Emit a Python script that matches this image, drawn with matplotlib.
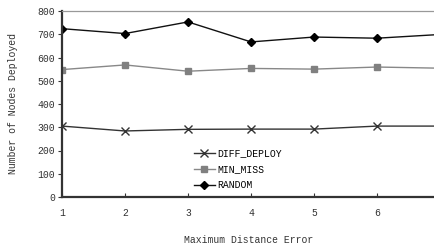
import matplotlib
matplotlib.use("Agg")
import matplotlib.pyplot as plt

# data
x = [1, 2, 3, 4, 5, 6, 7]
diff_deploy = [305, 284, 291, 292, 292, 305, 305]
min_miss = [548, 568, 541, 553, 550, 559, 554]
random_dep = [724, 703, 753, 667, 688, 683, 699]
yticks = [0, 100, 200, 300, 400, 500, 600, 700, 800]
xticks = [1, 2, 3, 4, 5, 6]

plt.rcParams['font.family'] = ['Liberation Mono', 'DejaVu Sans Mono']

fig = plt.figure(figsize=(4.35, 2.48), dpi=100)
ax = fig.add_axes([62 / 435, 1 - 197 / 248, 1 - 62 / 435, 186 / 248])

ax.plot(x, diff_deploy, color='#333333', lw=1.0, marker='x', ms=6, mew=1.0,
        label='DIFF_DEPLOY')
ax.plot(x, min_miss, color='#888888', lw=1.0, marker='s', ms=5,
        mfc='#808080', mec='#808080', label='MIN_MISS')
ax.plot(x, random_dep, color='#111111', lw=1.0, marker='D', ms=4.5,
        mfc='black', mec='black', label='RANDOM')

ax.set_xlim(1, 1 + 373 / 63)
ax.set_ylim(0, 800)
ax.set_xticks(xticks)
ax.set_yticks(yticks)
ax.tick_params(axis='x', direction='in', length=3, labelsize=7, pad=8,
               colors='#333333')
ax.tick_params(axis='y', direction='out', length=3, labelsize=7, pad=2,
               colors='#333333')

for side in ['left', 'bottom']:
    ax.spines[side].set_linewidth(1.6)
    ax.spines[side].set_color('#333333')
ax.spines['right'].set_visible(False)
ax.spines['top'].set_color('#999999')
ax.spines['top'].set_linewidth(0.9)

ax.set_xlabel('Maximum Distance Error', fontsize=7, color='#333333', labelpad=12)
ax.set_ylabel('Number of Nodes Deployed', fontsize=7, color='#333333', labelpad=14)

ax.legend(loc='upper left', bbox_to_anchor=(0.34, 0.29), frameon=False,
          fontsize=7, handlelength=2.2, handletextpad=0.2, labelspacing=0.62,
          borderpad=0)

fig.savefig('out.png', dpi=100)
